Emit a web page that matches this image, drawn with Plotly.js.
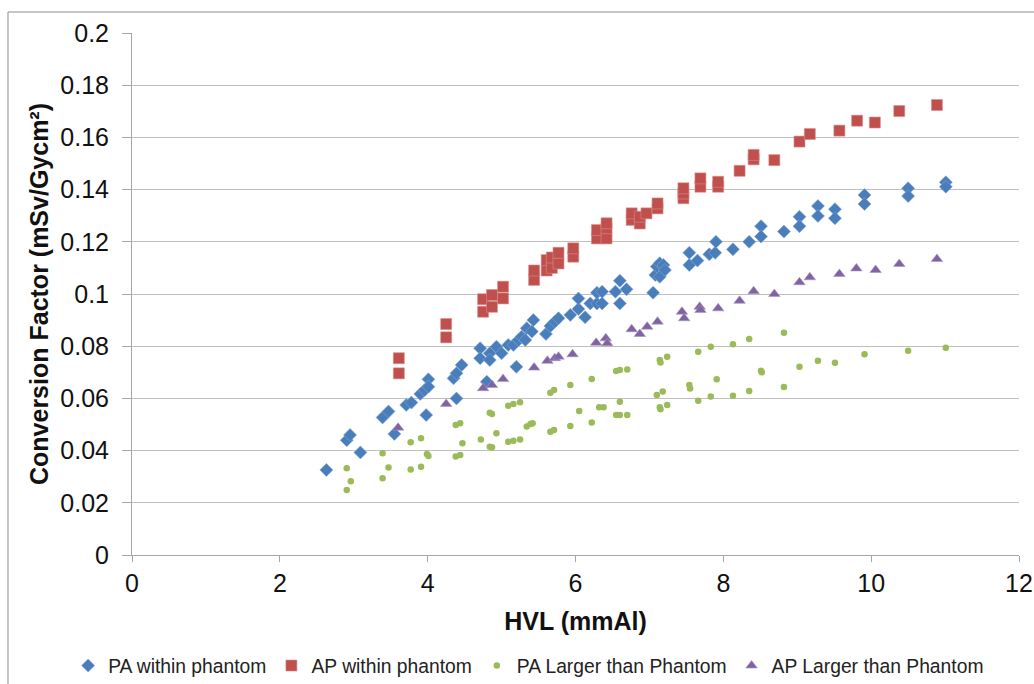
<!DOCTYPE html>
<html>
<head>
<meta charset="utf-8">
<script src="https://cdn.plot.ly/plotly-3.0.1.min.js"></script>
<style>
html,body{margin:0;padding:0;background:#fff;}
#chart{width:1034px;height:684px;}
</style>
</head>
<body>
<div id="chart"></div>
<script>
// PA within phantom
const paWithinX = [2.63,2.905,2.95,3.09,3.39,3.47,3.55,3.71,3.78,3.90,3.96,3.98,4.01,4.01,4.35,4.39,4.39,4.46,4.71,4.71,4.80,4.84,4.84,4.93,5.00,5.09,5.16,5.20,5.23,5.27,5.32,5.34,5.41,5.43,5.60,5.66,5.72,5.77,5.93,6.04,6.04,6.13,6.20,6.29,6.29,6.36,6.36,6.54,6.60,6.60,6.69,7.05,7.08,7.10,7.14,7.14,7.19,7.21,7.54,7.54,7.65,7.81,7.89,7.90,8.13,8.35,8.51,8.51,8.82,9.03,9.03,9.28,9.28,9.51,9.51,9.91,9.91,10.50,10.50,11.01,11.01];
const paWithinY = [0.0326,0.0440,0.0460,0.0393,0.0527,0.0550,0.0464,0.0575,0.0584,0.0617,0.0632,0.0536,0.0673,0.0645,0.0677,0.0696,0.0600,0.0728,0.0792,0.0754,0.0664,0.0773,0.0747,0.0798,0.0773,0.0805,0.0805,0.0721,0.0824,0.0836,0.0824,0.0869,0.0856,0.0900,0.0847,0.0877,0.0894,0.0907,0.0920,0.0943,0.0983,0.0911,0.0964,0.0964,0.1005,0.0964,0.1009,0.1009,0.1051,0.0964,0.1018,0.1005,0.1073,0.1105,0.1066,0.1118,0.1111,0.1092,0.1158,0.1111,0.1128,0.1152,0.1158,0.1200,0.1171,0.1200,0.1260,0.1220,0.1239,0.1296,0.1260,0.1337,0.1299,0.1325,0.1290,0.1379,0.1345,0.1405,0.1375,0.1428,0.1411];

// AP within phantom
const apWithinX = [3.61,3.61,4.25,4.25,4.75,4.75,4.87,4.87,5.02,5.02,5.44,5.44,5.61,5.61,5.68,5.68,5.77,5.77,5.97,5.97,6.29,6.29,6.42,6.42,6.42,6.76,6.76,6.87,6.87,6.96,7.11,7.11,7.46,7.46,7.46,7.69,7.69,7.93,7.93,8.22,8.41,8.41,8.69,9.03,9.17,9.57,9.81,10.05,10.38,10.89];
const apWithinY = [0.0754,0.0696,0.0885,0.0834,0.0932,0.0980,0.0951,0.0996,0.0983,0.1028,0.1054,0.1090,0.1090,0.1130,0.1100,0.1140,0.1117,0.1158,0.1143,0.1175,0.1213,0.1245,0.1213,0.1252,0.1271,0.1284,0.1309,0.1270,0.1296,0.1309,0.1328,0.1347,0.1367,0.1385,0.1405,0.1411,0.1443,0.1411,0.1430,0.1472,0.1516,0.1533,0.1513,0.1584,0.1613,0.1626,0.1664,0.1657,0.1701,0.1724];

// PA Larger than Phantom
const paLargerX = [2.905,2.96,2.905,3.39,3.47,3.39,3.77,3.91,3.77,3.91,3.99,4.01,4.38,4.44,4.47,4.38,4.44,4.72,4.84,4.87,4.84,4.87,4.93,5.09,5.16,5.25,5.09,5.16,5.25,5.34,5.39,5.42,5.66,5.71,5.66,5.71,5.93,5.93,6.05,6.22,6.22,6.32,6.38,6.55,6.60,6.70,6.60,6.55,6.60,6.70,7.10,7.18,7.14,7.15,7.24,7.14,7.15,7.24,7.54,7.55,7.66,7.66,7.83,7.83,7.91,8.13,8.13,8.35,8.35,8.51,8.52,8.82,8.82,9.03,9.28,9.51,9.91,10.50,11.01];
const paLargerY = [0.0332,0.0283,0.0249,0.0390,0.0335,0.0294,0.0432,0.0447,0.0328,0.0338,0.0387,0.0379,0.0498,0.0505,0.0428,0.0377,0.0383,0.0443,0.0545,0.0540,0.0415,0.0413,0.0466,0.0572,0.0579,0.0585,0.0434,0.0438,0.0443,0.0492,0.0502,0.0505,0.0622,0.0632,0.0472,0.0479,0.0651,0.0494,0.0552,0.0674,0.0508,0.0566,0.0566,0.0705,0.0709,0.0711,0.0587,0.0536,0.0536,0.0536,0.0613,0.0626,0.0747,0.0738,0.0760,0.0566,0.0558,0.0575,0.0651,0.0638,0.0779,0.0591,0.0798,0.0607,0.0673,0.0807,0.0610,0.0828,0.0628,0.0706,0.0700,0.0852,0.0644,0.0721,0.0744,0.0737,0.0769,0.0783,0.0794];

// AP Larger than Phantom
const apLargerX = [3.60,4.25,4.75,4.87,5.02,5.44,5.62,5.72,5.77,5.96,6.28,6.41,6.43,6.76,6.87,6.97,7.11,7.44,7.47,7.68,7.69,7.93,8.22,8.41,8.69,9.03,9.17,9.57,9.80,10.06,10.38,10.89];
const apLargerY = [0.0488,0.0579,0.0639,0.0651,0.0674,0.0718,0.0744,0.0754,0.0760,0.0769,0.0813,0.0830,0.0811,0.0865,0.0847,0.0875,0.0894,0.0932,0.0907,0.0951,0.0939,0.0945,0.0974,0.1011,0.1000,0.1045,0.1064,0.1077,0.1098,0.1092,0.1115,0.1134];

const seriesNames = ["PA within phantom","AP within phantom","PA Larger than Phantom","AP Larger than Phantom"];
const yTickVals = [0,0.02,0.04,0.06,0.08,0.1,0.12,0.14,0.16,0.18,0.2];
const yTickText = ["0","0.02","0.04","0.06","0.08","0.1","0.12","0.14","0.16","0.18","0.2"];
const xTickVals = [0,2,4,6,8,10,12];
const xTickText = ["0","2","4","6","8","10","12"];

const font = '"Liberation Sans", Arial, sans-serif';

const traces = [
  {x: paWithinX, y: paWithinY, name: seriesNames[0], type: 'scatter', mode: 'markers',
   marker: {symbol: 'diamond', size: 10, color: '#4A7EBB', line: {width: 0.6, color: '#7FA6D6'}}},
  {x: apWithinX, y: apWithinY, name: seriesNames[1], type: 'scatter', mode: 'markers',
   marker: {symbol: 'square', size: 11, color: '#C0504D', line: {width: 0.6, color: '#DC8C8A'}}},
  {x: paLargerX, y: paLargerY, name: seriesNames[2], type: 'scatter', mode: 'markers',
   marker: {symbol: 'circle', size: 6.5, color: '#9BBB59', line: {width: 0}}},
  {x: apLargerX, y: apLargerY, name: seriesNames[3], type: 'scatter', mode: 'markers',
   marker: {symbol: 'triangle-up', size: 10, color: '#8064A2', line: {width: 0.6, color: '#A894C2'}}}
];

const layout = {
  width: 1034, height: 684,
  paper_bgcolor: '#fff', plot_bgcolor: '#fff',
  margin: {l: 132, r: 15, t: 33, b: 129, autoexpand: false},
  font: {family: font, color: '#000'},
  showlegend: true,
  legend: {orientation: 'h', x: -0.072, xanchor: 'left', y: -0.2126, yanchor: 'middle',
           font: {family: font, size: 19.3, color: '#222'}, itemwidth: 30, traceorder: 'normal',
           bgcolor: 'rgba(0,0,0,0)'},
  xaxis: {range: [0, 12], tickvals: xTickVals, ticktext: xTickText,
          showgrid: false, zeroline: false, showline: true, linecolor: '#A6A6A6', linewidth: 1,
          ticks: 'outside', ticklen: 6, tickcolor: '#A6A6A6',
          tickfont: {family: font, size: 25, color: '#111'},
          title: {text: '<b>HVL (mmAl)</b>', font: {family: font, size: 25, color: '#111'}, standoff: 16}},
  yaxis: {range: [0, 0.2], tickvals: yTickVals, ticktext: yTickText,
          showgrid: true, gridcolor: '#BFBFBF', gridwidth: 1, zeroline: false,
          showline: true, linecolor: '#A6A6A6', linewidth: 1,
          ticks: 'outside', ticklen: 9, tickcolor: '#A6A6A6', ticklabelstandoff: 8,
          tickfont: {family: font, size: 25, color: '#111'},
          title: {text: '<b>Conversion Factor (mSv/Gycm²)</b>', font: {family: font, size: 25, color: '#111'}, standoff: 4}},
  shapes: [
    {type: 'line', xref: 'paper', yref: 'paper', x0: -0.1398, x1: 1.02, y0: 1.0402, y1: 1.0402, line: {color: '#8C8C8C', width: 1}},
    {type: 'line', xref: 'paper', yref: 'paper', x0: -0.1398, x1: -0.1398, y0: 1.0402, y1: -0.3, line: {color: '#8C8C8C', width: 1}}
  ]
};

Plotly.newPlot('chart', traces, layout, {displayModeBar: false, staticPlot: true});
</script>
</body>
</html>
